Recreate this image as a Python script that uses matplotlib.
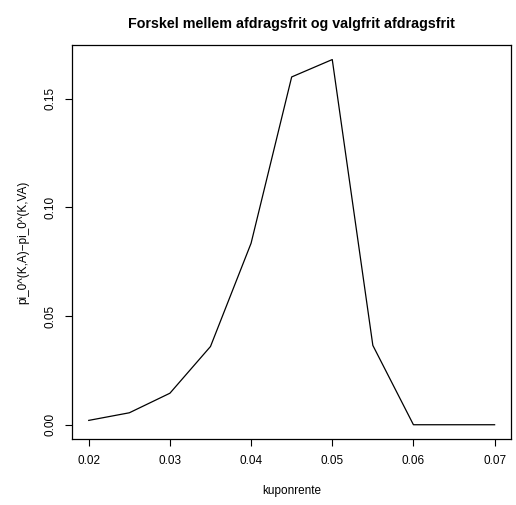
import matplotlib
matplotlib.use('Agg')
import matplotlib.pyplot as plt
import numpy as np

plt.rcParams.update({'font.family': 'Liberation Sans',
                     'font.size': 8.5,
                     'axes.linewidth': 0.9,
                     'xtick.major.size': 5,
                     'ytick.major.size': 5,
                     'xtick.major.width': 0.8,
                     'ytick.major.width': 0.8,
                     'xtick.major.pad': 6.5,
                     'ytick.major.pad': 6.5})

# data
kuponrente = np.array([0.020, 0.025, 0.030, 0.035, 0.040, 0.045, 0.050, 0.055, 0.060, 0.065, 0.070])
forskel = np.array([0.0020, 0.0055, 0.0145, 0.0360, 0.0835, 0.1600, 0.1680, 0.0365, 0.0, 0.0, 0.0])
xticks = [0.02, 0.03, 0.04, 0.05, 0.06, 0.07]
yticks = [0.00, 0.05, 0.10, 0.15]

fig = plt.figure(figsize=(5.16, 5.05), dpi=100)
ax = fig.add_axes([0.1405, 0.130, 0.8495, 0.781])
ax.plot(kuponrente, forskel, color='k', lw=0.9)

# R style 4% padding
xr = kuponrente.max() - kuponrente.min()
yr = forskel.max() - forskel.min()
ax.set_xlim(kuponrente.min() - 0.04*xr, kuponrente.max() + 0.04*xr)
ax.set_ylim(forskel.min() - 0.04*yr, forskel.max() + 0.04*yr)

ax.set_xticks(xticks)
ax.set_xticklabels(['%.2f' % t for t in xticks])
ax.set_yticks(yticks)
ax.set_yticklabels(['%.2f' % t for t in yticks], rotation=90, va='center')

ax.set_xlabel('kuponrente', labelpad=13)
ax.set_ylabel('pi_0^(K,A)\u2212pi_0^(K,VA)', labelpad=11)
ax.set_title('Forskel mellem afdragsfrit og valgfrit afdragsfrit',
             fontsize=10.3, fontweight='bold', pad=12)

fig.savefig('out.png', dpi=100)
